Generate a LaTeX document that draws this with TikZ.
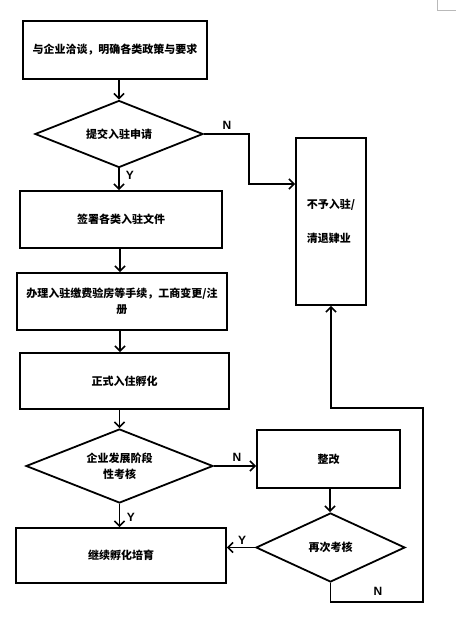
\documentclass[tikz,border=0pt]{standalone}
\usepackage{fontspec}
\newfontfamily\cjk{Noto Sans CJK SC}
\newfontfamily\lat{Liberation Sans}
\usetikzlibrary{shapes.geometric,arrows.meta}
\definecolor{cornergray}{RGB}{185,185,185}
\tikzset{
  box/.style={draw, line width=1.8pt, rectangle, inner sep=0pt, align=center,
    font=\cjk\bfseries\fontsize{11}{16}\selectfont},
  dia/.style={draw, line width=1.8pt, diamond, aspect=2.5, inner sep=0pt, align=center,
    font=\cjk\bfseries\fontsize{11}{16}\selectfont},
  arr/.style={draw, line width=1.8pt, -{Straight Barb[length=5pt,width=10pt,line width=1.6pt]}},
  yn/.style={font=\lat\bfseries\fontsize{12}{14}\selectfont, inner sep=0pt}
}
\begin{document}
\begin{tikzpicture}[x=1pt,y=-1pt]
\useasboundingbox (0,0) rectangle (461,619);
\fill[white] (0,0) rectangle (461,619);
\draw[cornergray, line width=1pt] (437,0) -- (437,10) -- (456,10);

\node[box, minimum width=184pt, minimum height=58pt] (b1) at (115,50) {与企业洽谈，明确各类政策与要求};
\node[dia, minimum width=168pt, minimum height=67pt] (d1) at (119,134) {提交入驻申请};
\node[box, minimum width=202pt, minimum height=57pt] (b2) at (121,219.5) {签署各类入驻文件};
\node[box, minimum width=210pt, minimum height=57pt] (b3) at (122,301.5) {办理入驻缴费验房等手续，工商变更/注\\册};
\node[box, minimum width=209pt, minimum height=56pt] (b4) at (124.5,381) {正式入住孵化};
\node[dia, minimum width=187pt, minimum height=74pt] (d2) at (119.5,466) {企业发展阶段\\性考核};
\node[box, minimum width=210pt, minimum height=55pt] (b5) at (121,555.5) {继续孵化培育};
\node[box, minimum width=70pt, minimum height=167pt, align=left,
  font=\cjk\bfseries\fontsize{11}{34}\selectfont] (rb) at (331,221.5) {不予入驻/\\清退肄业};
\node[box, minimum width=143pt, minimum height=58pt] (zg) at (328.5,459) {整改};
\node[dia, minimum width=149pt, minimum height=69pt] (d3) at (330.5,547.5) {再次考核};

\coordinate (k1) at (249,184);
\coordinate (c1) at (423,602);
\coordinate (c2) at (423,408);
\coordinate (vx) at (120,0);
\coordinate (vz) at (330,0);

\draw[arr] (d1.north |- b1.south) -- (d1.north);
\draw[arr] (d1.south) -- (d1.south |- b2.north);
\draw[arr] (d1.east) -| (k1) -- (k1 -| rb.west);
\draw[arr] (vx |- b2.south) -- (vx |- b3.north);
\draw[arr] (vx |- b3.south) -- (vx |- b4.north);
\draw[arr] (d2.north |- b4.south) -- (d2.north);
\draw[arr] (d2.east) -- (d2.east -| zg.west);
\draw[arr] (vz |- zg.south) -- (vz |- d3.north);
\draw[arr] (d3.west) -- (d3.west -| b5.east);
\draw[arr] (d2.south) -- (d2.south |- b5.north);
\draw[arr] (d3.south) |- (c1) -- (c2) -| (rb.south);

\node[yn] (n1) at (227,125) {N};
\node[yn] (y1) at (130,175) {Y};
\node[yn] (n2) at (237,457) {N};
\node[yn] (y2) at (131,517) {Y};
\node[yn] (y3) at (242,540) {Y};
\node[yn] (n3) at (378,591) {N};
\end{tikzpicture}
\end{document}
